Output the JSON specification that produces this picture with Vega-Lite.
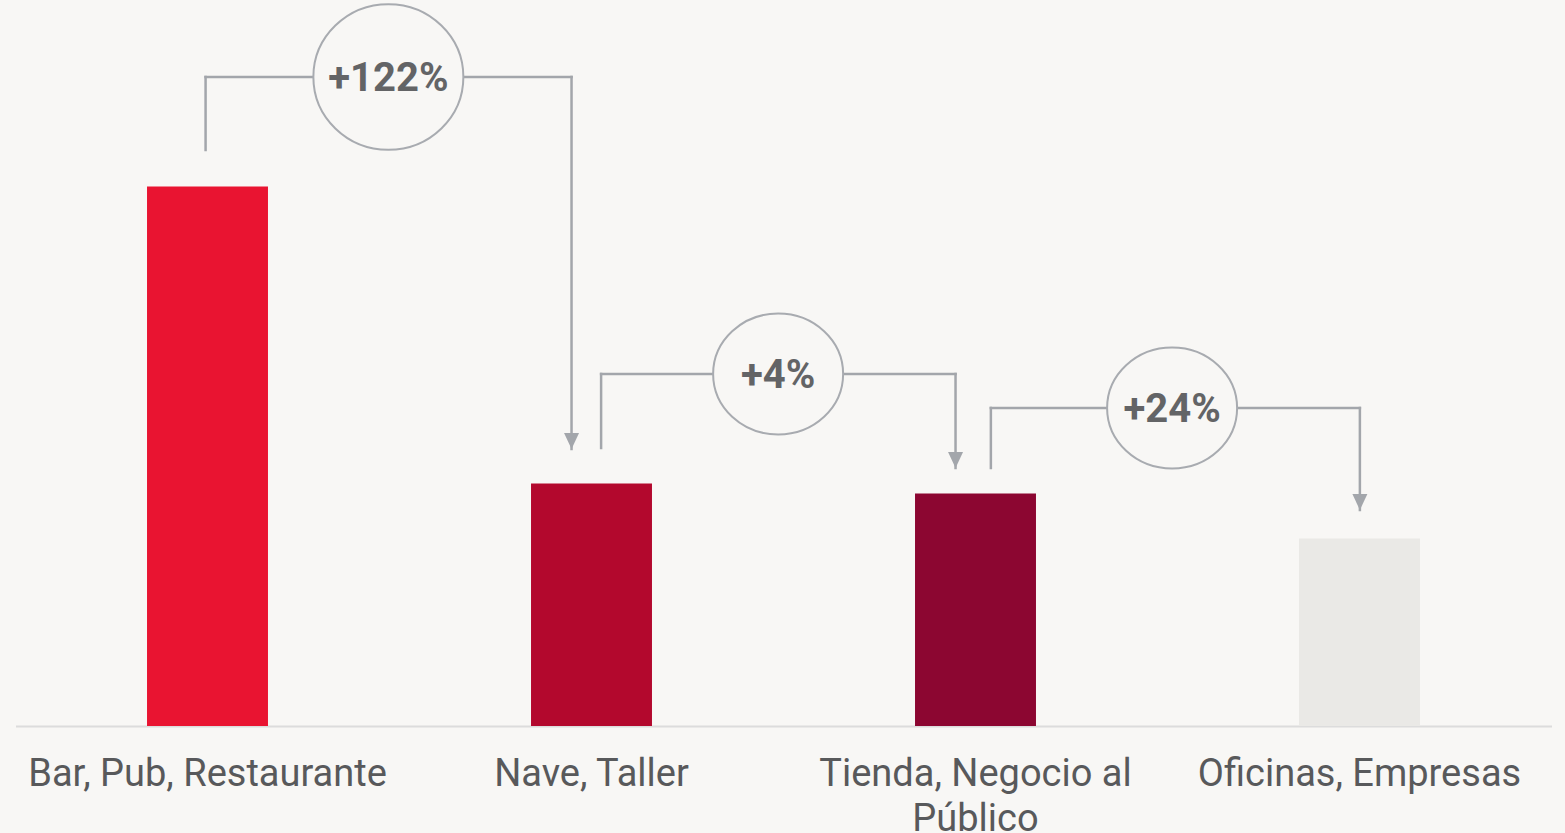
{
  "$schema": "https://vega.github.io/schema/vega-lite/v6.json",
  "width": 1536,
  "height": 726,
  "autosize": {"type": "none"},
  "padding": {"left": 15.5, "top": 0, "right": 13.5, "bottom": 107},
  "background": "#f8f7f5",
  "config": {"view": {"stroke": null}},
  "datasets": {
    "barras": [
      {"tipo": "Bar, Pub, Restaurante", "valor": 539.5},
      {"tipo": "Nave, Taller", "valor": 242.5},
      {"tipo": "Tienda, Negocio al Público", "valor": 232.5},
      {"tipo": "Oficinas, Empresas", "valor": 187.5}
    ],
    "conectores": [
      {"x_de": 0.495, "x_a": 1.448, "x_mid": 0.971, "nivel": 649, "fin_de": 576, "fin_a": 277, "etiqueta": "+122%"},
      {"x_de": 1.525, "x_a": 2.448, "x_mid": 1.986, "nivel": 352, "fin_de": 278, "fin_a": 258, "etiqueta": "+4%"},
      {"x_de": 2.54, "x_a": 3.501, "x_mid": 3.012, "nivel": 318, "fin_de": 258, "fin_a": 216, "etiqueta": "+24%"}
    ]
  },
  "layer": [
    {
      "data": {"name": "barras"},
      "mark": {"type": "bar"},
      "encoding": {
        "x": {
          "field": "tipo",
          "type": "nominal",
          "sort": null,
          "scale": {"paddingInner": 0.685, "paddingOuter": 0.3425},
          "axis": {
            "title": null,
            "ticks": false,
            "tickSize": 0,
            "domainColor": "#dcdcdc",
            "domainWidth": 2,
            "labelAngle": 0,
            "labelFont": "Roboto",
            "labelFontSize": 38,
            "labelColor": "#58595b",
            "labelPadding": 29,
            "labelLimit": 500,
            "labelOverlap": false,
            "labelFlush": false,
            "labelLineHeight": 45,
            "labelExpr": "datum.label == 'Tienda, Negocio al Público' ? ['Tienda, Negocio al', 'Público'] : datum.label"
          }
        },
        "y": {"field": "valor", "type": "quantitative", "scale": {"domain": [0, 726], "nice": false}, "axis": null},
        "color": {
          "field": "tipo",
          "type": "nominal",
          "sort": null,
          "scale": {
            "domain": ["Bar, Pub, Restaurante", "Nave, Taller", "Tienda, Negocio al Público", "Oficinas, Empresas"],
            "range": ["#e91431", "#b3082d", "#8c0631", "#eae9e6"]
          },
          "legend": null
        }
      }
    },
    {
      "data": {"name": "conectores"},
      "layer": [
        {
          "mark": {"type": "rule", "color": "#a3a6ab", "strokeWidth": 2.5, "strokeCap": "square"},
          "encoding": {
            "x": {"field": "x_de", "type": "quantitative", "scale": {"domain": [0, 4], "nice": false, "zero": false}, "axis": null},
            "y": {"field": "nivel", "type": "quantitative", "scale": {"domain": [0, 726], "nice": false}, "axis": null},
            "y2": {"field": "fin_de"}
          }
        },
        {
          "mark": {"type": "rule", "color": "#a3a6ab", "strokeWidth": 2.5, "strokeCap": "square"},
          "encoding": {
            "x": {"field": "x_de", "type": "quantitative", "scale": {"domain": [0, 4], "nice": false, "zero": false}, "axis": null},
            "x2": {"field": "x_a"},
            "y": {"field": "nivel", "type": "quantitative", "scale": {"domain": [0, 726], "nice": false}, "axis": null}
          }
        },
        {
          "mark": {"type": "rule", "color": "#a3a6ab", "strokeWidth": 2.5, "strokeCap": "square"},
          "encoding": {
            "x": {"field": "x_a", "type": "quantitative", "scale": {"domain": [0, 4], "nice": false, "zero": false}, "axis": null},
            "y": {"field": "nivel", "type": "quantitative", "scale": {"domain": [0, 726], "nice": false}, "axis": null},
            "y2": {"field": "fin_a"}
          }
        },
        {
          "mark": {
            "type": "point",
            "shape": "M -1 -1.07 L 1 -1.07 L 0 1.07 Z",
            "size": 225,
            "filled": true,
            "color": "#a3a6ab",
            "opacity": 1,
            "yOffset": -8
          },
          "encoding": {
            "x": {"field": "x_a", "type": "quantitative", "scale": {"domain": [0, 4], "nice": false, "zero": false}, "axis": null},
            "y": {"field": "fin_a", "type": "quantitative", "scale": {"domain": [0, 726], "nice": false}, "axis": null}
          }
        },
        {
          "mark": {
            "type": "point",
            "filled": false,
            "fill": "#f8f7f5",
            "fillOpacity": 1,
            "stroke": "#a8abb0",
            "strokeWidth": 2,
            "opacity": 1
          },
          "encoding": {
            "x": {"field": "x_mid", "type": "quantitative", "scale": {"domain": [0, 4], "nice": false, "zero": false}, "axis": null},
            "y": {"field": "nivel", "type": "quantitative", "scale": {"domain": [0, 726], "nice": false}, "axis": null},
            "shape": {
              "condition": {"test": "datum.etiqueta === '+122%'", "value": "M -1 0 C -1 -0.5357 -0.5523 -0.97 0 -0.97 C 0.5523 -0.97 1 -0.5357 1 0 C 1 0.5357 0.5523 0.97 0 0.97 C -0.5523 0.97 -1 0.5357 -1 0 Z"},
              "value": "M -1 0 C -1 -0.5136 -0.5523 -0.93 0 -0.93 C 0.5523 -0.93 1 -0.5136 1 0 C 1 0.5136 0.5523 0.93 0 0.93 C -0.5523 0.93 -1 0.5136 -1 0 Z"
            },
            "size": {
              "condition": {"test": "datum.etiqueta === '+122%'", "value": 22500},
              "value": 16900
            }
          }
        },
        {
          "mark": {
            "type": "text",
            "font": "Roboto",
            "fontWeight": "bold",
            "fontSize": 40,
            "color": "#636466",
            "align": "center",
            "baseline": "middle",
            "dy": 2
          },
          "encoding": {
            "x": {"field": "x_mid", "type": "quantitative", "scale": {"domain": [0, 4], "nice": false, "zero": false}, "axis": null},
            "y": {"field": "nivel", "type": "quantitative", "scale": {"domain": [0, 726], "nice": false}, "axis": null},
            "text": {"field": "etiqueta"}
          }
        }
      ]
    }
  ],
  "resolve": {"scale": {"x": "independent"}}
}
